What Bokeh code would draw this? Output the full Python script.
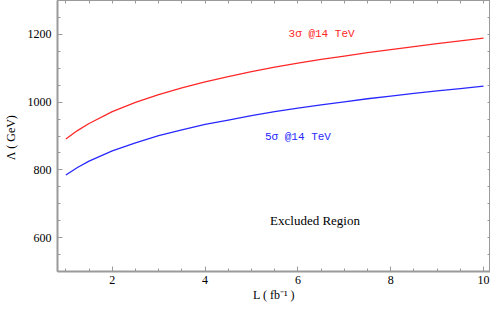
import numpy as np
from bokeh.plotting import figure
from bokeh.models import Range1d, LinearAxis, Label, SingleIntervalTicker, FixedTicker
from bokeh.embed import file_html
from bokeh.resources import INLINE

# Luminosity L (fb^-1)
lumi = [1.0, 1.25, 1.5, 2.0, 2.5, 3.0, 3.5, 4.0, 4.5, 5.0, 5.5, 6.0, 6.5,
        7.0, 7.5, 8.0, 8.5, 9.0, 9.5, 10.0]
# Lambda (GeV), 3 sigma @ 14 TeV
lam_3sigma = [891, 916, 937, 972, 999, 1022, 1042, 1060, 1075, 1090, 1103,
              1115, 1126, 1136, 1146, 1155, 1164, 1173, 1181, 1189]
# Lambda (GeV), 5 sigma @ 14 TeV
lam_5sigma = [785, 807, 826, 856, 880, 901, 918, 934, 947, 960, 972,
              982, 992, 1001, 1010, 1018, 1026, 1033, 1040, 1047]

X_RANGE = (0.82, 10.15)
Y_RANGE = (500, 1300)

SERIF = "Liberation Serif"
MONO = "Liberation Mono"
FRAME = "#9a9a9a"

p = figure(width=490, height=304, x_range=Range1d(*X_RANGE),
           y_range=Range1d(*Y_RANGE), output_backend="svg",
           toolbar_location=None, x_axis_location=None, y_axis_location=None,
           min_border_left=0, min_border_right=0, min_border_top=0,
           min_border_bottom=0)
p.xgrid.visible = False
p.ygrid.visible = False
p.outline_line_color = FRAME
p.outline_line_width = 1
p.background_fill_color = "white"
p.border_fill_color = "white"


def style(ax, main=True):
    ax.axis_line_color = FRAME
    ax.axis_line_width = 2 if main else 1
    ax.major_tick_line_color = FRAME
    ax.minor_tick_line_color = FRAME
    ax.major_tick_in = 5
    ax.major_tick_out = 0
    ax.minor_tick_in = 3
    ax.minor_tick_out = 0
    ax.major_label_text_font = SERIF
    ax.major_label_text_font_size = "12px"
    ax.major_label_text_color = "black"
    ax.axis_label_text_font = SERIF
    ax.axis_label_text_font_size = "12px"
    ax.axis_label_text_font_style = "normal"
    ax.axis_label_text_color = "black"


xticker = SingleIntervalTicker(interval=2, num_minor_ticks=4)
yticker = SingleIntervalTicker(interval=200, num_minor_ticks=4)

xb = LinearAxis(ticker=xticker, axis_label="L ( fb\u207b\u00b9 )")
style(xb)
xb.major_label_standoff = 4
xb.axis_label_standoff = 1
p.add_layout(xb, "below")

yl = LinearAxis(ticker=yticker, axis_label="\u039b  ( GeV)")
style(yl)
yl.major_label_standoff = 6
yl.axis_label_standoff = 7
p.add_layout(yl, "left")

# top and right frame ticks (no labels)
top_ticks = list(np.arange(1.0, 10.01, 0.5))
right_ticks = list(np.arange(550, 1251, 50))
xt = LinearAxis(ticker=FixedTicker(ticks=[], minor_ticks=top_ticks))
style(xt, main=False)
xt.major_label_standoff = 0
p.add_layout(xt, "above")

yr = LinearAxis(ticker=FixedTicker(ticks=[], minor_ticks=right_ticks))
style(yr, main=False)
yr.major_label_standoff = 0
p.add_layout(yr, "right")

p.line(lumi, lam_3sigma, line_color="#ff2828", line_width=1.3)
p.line(lumi, lam_5sigma, line_color="#2828ff", line_width=1.3)

p.add_layout(Label(x=5.8, y=1200, text="3\u03c3 @14 TeV", text_color="#ff2828",
                   text_font=MONO, text_font_size="11px",
                   text_baseline="middle", text_align="left"))
p.add_layout(Label(x=5.29, y=897, text="5\u03c3 @14 TeV", text_color="#2828ff",
                   text_font=MONO, text_font_size="11px",
                   text_baseline="middle", text_align="left"))
p.add_layout(Label(x=5.4, y=652, text="Excluded  Region", text_color="black",
                   text_font=SERIF, text_font_size="13px",
                   text_baseline="middle", text_align="left"))

open("out.html", "w").write(file_html(p, INLINE))
